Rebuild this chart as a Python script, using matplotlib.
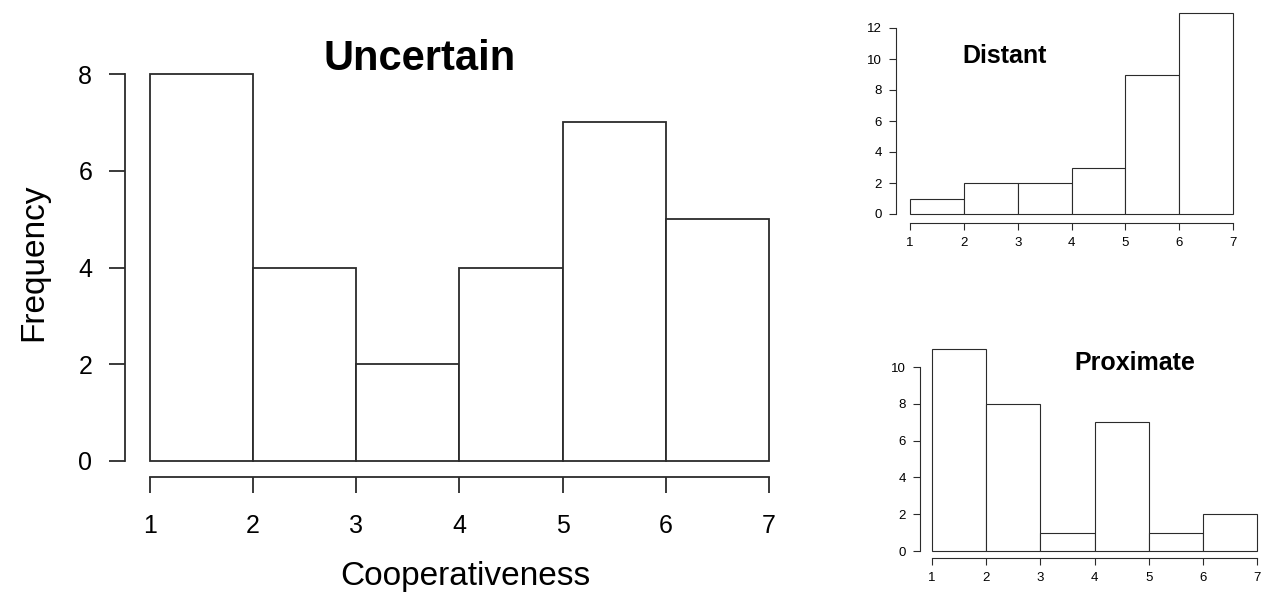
import numpy as np
import matplotlib
matplotlib.use('Agg')
import matplotlib.pyplot as plt

plt.rcParams['font.family'] = ['Liberation Sans', 'DejaVu Sans']

# bin edges shared by all three histograms
edges = [1, 2, 3, 4, 5, 6, 7]

uncertain_counts = [8, 4, 2, 4, 7, 5]
distant_counts = [1, 2, 2, 3, 9, 13]
proximate_counts = [11, 8, 1, 7, 1, 2]

uncertain_yticks = [0, 2, 4, 6, 8]
distant_yticks = [0, 2, 4, 6, 8, 10, 12]
proximate_yticks = [0, 2, 4, 6, 8, 10]

W, H = 1271, 605
DPI = 100
LINE = '#2b2b2b'


def px_axes(fig, x0, x1, y_bottom, y_top):
    """Add axes given pixel coordinates (y measured from top)."""
    return fig.add_axes([x0 / W, (H - y_bottom) / H, (x1 - x0) / W, (y_bottom - y_top) / H])


def r_hist(ax, counts, yticks, ymax, off_left, off_bottom, lw, fs, ticklen, pad):
    # histogram bars, R style (white with outline)
    ax.bar(edges[:-1], counts, width=1, align='edge', color='white',
           edgecolor=LINE, linewidth=lw, clip_on=False)
    ax.set_xlim(edges[0], edges[-1])
    ax.set_ylim(0, ymax)
    for s in ['top', 'right']:
        ax.spines[s].set_visible(False)
    pt = 72.0 / DPI
    ax.spines['left'].set_position(('outward', off_left * pt))
    ax.spines['bottom'].set_position(('outward', off_bottom * pt))
    ax.spines['left'].set_bounds(yticks[0], yticks[-1])
    ax.spines['bottom'].set_bounds(edges[0], edges[-1])
    for s in ['left', 'bottom']:
        ax.spines[s].set_color(LINE)
        ax.spines[s].set_linewidth(lw)
    ax.set_xticks(edges)
    ax.set_yticks(yticks)
    ax.tick_params(axis='both', length=ticklen * pt, width=lw, color=LINE,
                   labelsize=fs, pad=pad)
    ax.patch.set_alpha(0)


fig = plt.figure(figsize=(W / DPI, H / DPI), dpi=DPI)

# main panel
ax1 = px_axes(fig, 150, 769, 461, 74)
r_hist(ax1, uncertain_counts, uncertain_yticks, 8, 25, 16, 1.3, 18, 16, 12)
ax1.tick_params(axis='x', pad=15)
ax1.set_xlabel('Cooperativeness', fontsize=24)
ax1.set_ylabel('Frequency', fontsize=24)
ax1.xaxis.set_label_coords(0.509, -0.258)
ax1.yaxis.set_label_coords(-0.163, 0.514)
fig.text(420 / W, 1 - 59 / H, 'Uncertain', fontsize=30, fontweight='bold',
         ha='center', va='center')

# distant panel
ax2 = px_axes(fig, 910, 1233, 214, 214 - 13 * 186 / 12)
r_hist(ax2, distant_counts, distant_yticks, 13, 14, 9, 0.8, 9.5, 7, 5)
fig.text(1005 / W, 1 - 56 / H, 'Distant', fontsize=18, fontweight='bold',
         ha='center', va='center')

# proximate panel
ax3 = px_axes(fig, 932, 1257, 551, 551 - 11 * 184 / 10)
r_hist(ax3, proximate_counts, proximate_yticks, 11, 12, 7, 0.8, 9.5, 7, 5)
fig.text(1135 / W, 1 - 363 / H, 'Proximate', fontsize=18, fontweight='bold',
         ha='center', va='center')

fig.savefig('out.png', dpi=DPI)
